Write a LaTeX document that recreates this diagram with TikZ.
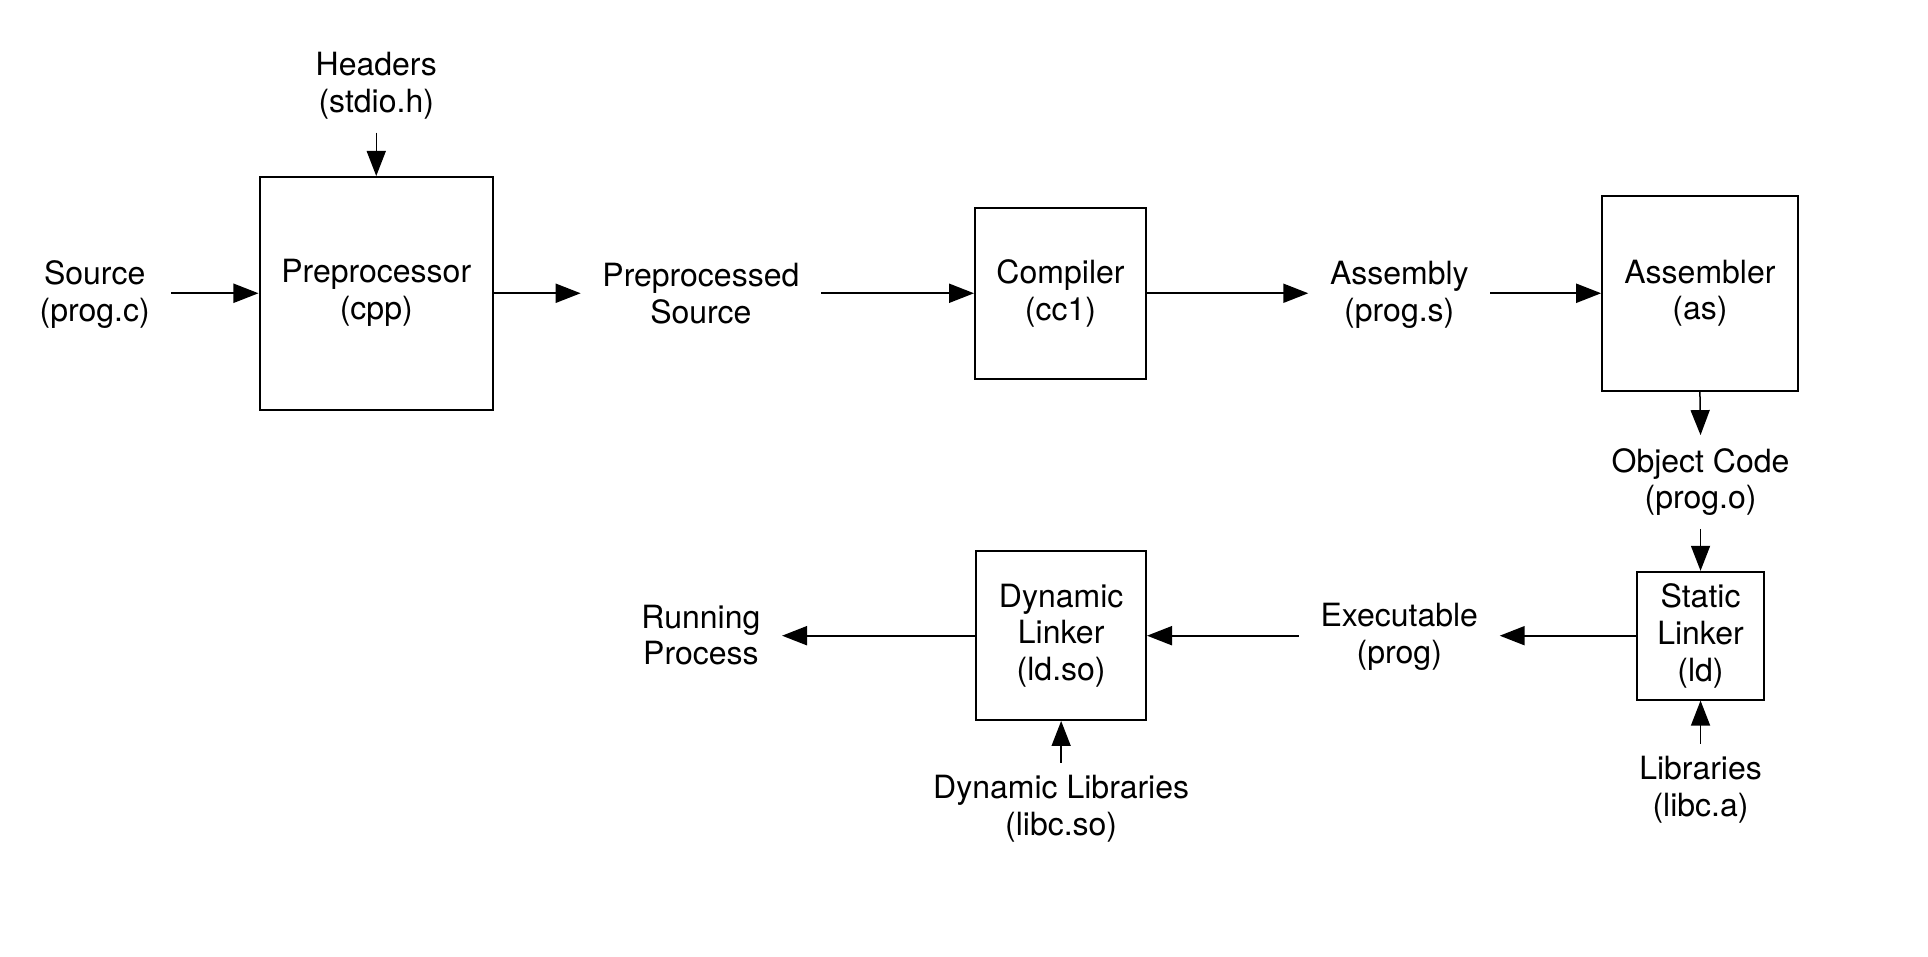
\documentclass[tikz,border=0pt]{standalone}
\usepackage{fontspec}
\setmainfont{TeX Gyre Heros}
\usetikzlibrary{arrows.meta}
\tikzset{
  proc/.style={draw, line width=0.8pt, inner sep=0pt, align=center, font=\fontsize{12.8pt}{14.75pt}\selectfont},
  lbl/.style={inner xsep=8.5pt, inner ysep=5pt, align=center, font=\fontsize{12.8pt}{14.75pt}\selectfont},
  arr/.style={-{Triangle[length=10pt,width=7.6pt]}, line width=0.8pt},
  varr/.style={-{Triangle[length=10pt,width=7.6pt]}, line width=0.6pt}
}
\begin{document}
\begin{tikzpicture}[x=0.4918pt,y=-0.4918pt]
\useasboundingbox (0,0) rectangle (1568,777.5);
% boxes
\node[proc, minimum width=93.4pt, minimum height=93.0pt] (pre) at (306,238.5) {\raisebox{-1pt}{\parbox{80pt}{\centering Preprocessor\\(cpp)}}};
\node[proc, minimum width=68.4pt, minimum height=68.4pt] (cc) at (862.5,238.5) {\raisebox{-1pt}{\parbox{60pt}{\centering Compiler\\(cc1)}}};
\node[proc, minimum width=78.2pt, minimum height=78.2pt] (as) at (1382.5,238.5) {\raisebox{-1pt}{\parbox{70pt}{\centering Assembler\\(as)}}};
\node[proc, minimum width=51.1pt, minimum height=51.1pt] (ld) at (1383,517) {\raisebox{-0.5pt}{\parbox{45pt}{\centering Static\\Linker\\(ld)}}};
\node[proc, minimum width=67.9pt, minimum height=67.4pt] (dl) at (863,517) {\raisebox{-0.5pt}{\parbox{60pt}{\centering Dynamic\\Linker\\(ld.so)}}};
% labels
\node[lbl] (hdr) at (306,70) {Headers\\(stdio.h)};
\node[lbl] (src) at (77,239.5) {Source\\(prog.c)};
\node[lbl] (pps) at (570,238.5) {Preprocessed\\Source};
\node[lbl] (asm) at (1138,239.5) {Assembly\\(prog.s)};
\node[lbl] (obj) at (1383,392) {Object Code\\(prog.o)};
\node[lbl] (lib) at (1383,642.5) {Libraries\\(libc.a)};
\node[lbl] (exe) at (1138,518) {Executable\\(prog)};
\node[lbl] (dlib) at (863,658) {Dynamic Libraries\\(libc.so)};
\node[lbl] (run) at (570,516.5) {Running\\Process};
% connectors
\draw[varr] (hdr.south) -- (pre.north);
\draw[arr] (src.east |- pre.west) -- (pre.west);
\draw[arr] (pre.east) -- (pre.east -| pps.west);
\draw[arr] (pps.east |- cc.west) -- (cc.west);
\draw[arr] (cc.east) -- (cc.east -| asm.west);
\draw[arr] (asm.east |- as.west) -- (as.west);
\draw[varr] (as.south) -- (obj.north);
\draw[varr] (obj.south) -- (ld.north);
\draw[varr] (lib.north) -- (ld.south);
\draw[arr] (ld.west) -- (ld.west -| exe.east);
\draw[arr] (exe.west |- dl.east) -- (dl.east);
\draw[varr] (dlib.north) -- (dl.south);
\draw[arr] (dl.west) -- (dl.west -| run.east);
\end{tikzpicture}
\end{document}
